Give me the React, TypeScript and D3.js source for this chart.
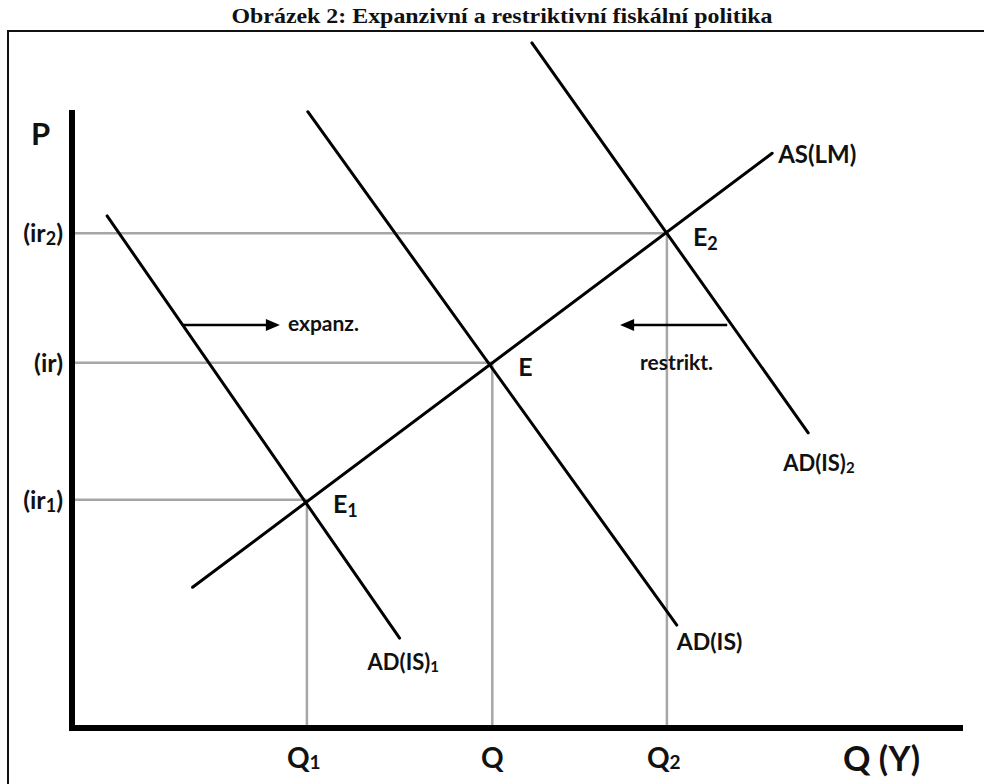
import React from "react";
import * as d3 from "d3";

const TITLE = "Obrázek 2: Expanzivní a restriktivní fiskální politika";

// Economic quantities (abstract units on 0..10 axes)
const qLevels = [
  { name: "Q1", base: "Q", sub: "1", q: 2.61, ir: 3.68, eq: "E", eqSub: "1", irBase: "(ir", irSub: "1" },
  { name: "Q", base: "Q", sub: "", q: 4.67, ir: 5.89, eq: "E", eqSub: "", irBase: "(ir", irSub: "" },
  { name: "Q2", base: "Q", sub: "2", q: 6.61, ir: 7.98, eq: "E", eqSub: "2", irBase: "(ir", irSub: "2" },
];

// Curves: [x, y] endpoints in data units
const asCurve: [number, number][] = [[1.34, 2.27], [7.78, 9.27]];
const adCurve1: [number, number][] = [[0.39, 8.26], [3.64, 1.45]];
const adCurve: [number, number][] = [[2.62, 9.94], [6.72, 1.66]];
const adCurve2: [number, number][] = [[5.11, 11.05], [8.18, 4.76]];

const shiftArrows = [
  { from: 1.23, to: 2.31, y: 6.5, label: "expanz." },
  { from: 7.28, to: 6.09, y: 6.5, label: "restrikt." },
];

const FONT = "Lato, 'Open Sans', sans-serif";

export default function App() {
  const x = d3.scaleLinear().domain([0, 10]).range([72, 972]);
  const y = d3.scaleLinear().domain([0, 10]).range([728, 108]);
  const line = d3.line<[number, number]>().x((d) => x(d[0])).y((d) => y(d[1]));

  const curves = [asCurve, adCurve1, adCurve, adCurve2];

  return (
    <svg
      width={984}
      height={784}
      style={{ position: "absolute", left: 0, top: 0, background: "#fff" }}
    >
      <rect x={0} y={0} width={984} height={784} fill="#fff" />
      <text
        x={502}
        y={23}
        textAnchor="middle"
        fontFamily="'Liberation Serif', 'Times New Roman', serif"
        fontWeight="bold"
        fontSize={22}
        textLength={541}
        lengthAdjust="spacingAndGlyphs"
        fill="#111"
      >
        {TITLE}
      </text>
      {/* frame */}
      <rect x={8} y={31} width={990} height={770} fill="none" stroke="#111" strokeWidth={2} />

      {/* guide lines */}
      {qLevels.map((l) => (
        <g key={l.name} stroke="#a6a6a6" strokeWidth={2.5}>
          <line x1={x(0)} x2={x(l.q)} y1={y(l.ir)} y2={y(l.ir)} />
          <line x1={x(l.q)} x2={x(l.q)} y1={y(l.ir)} y2={y(0)} />
        </g>
      ))}

      {/* curves */}
      {curves.map((c, i) => (
        <path key={i} d={line(c) || ""} fill="none" stroke="#000" strokeWidth={3} strokeLinecap="round" />
      ))}

      {/* axes */}
      <line x1={x(0)} x2={x(0)} y1={110} y2={y(0) + 3} stroke="#000" strokeWidth={6} />
      <line x1={x(0) - 3} x2={963} y1={y(0)} y2={y(0)} stroke="#000" strokeWidth={6} />

      {/* shift arrows */}
      {shiftArrows.map((a, i) => {
        const dir = a.to > a.from ? 1 : -1;
        const tipX = x(a.to);
        const yy = y(a.y);
        return (
          <g key={i}>
            <line x1={x(a.from)} x2={tipX - dir * 10} y1={yy} y2={yy} stroke="#000" strokeWidth={2.5} />
            <path
              d={`M${tipX},${yy} L${tipX - dir * 14},${yy - 6} L${tipX - dir * 14},${yy + 6} Z`}
              fill="#000"
            />
          </g>
        );
      })}
      <text x={x(shiftArrows[0].to) + 8} y={y(shiftArrows[0].y) + 6} fontFamily={FONT} fontWeight="bold" fontSize={21} fill="#111">
        {shiftArrows[0].label}
      </text>
      <text x={x(shiftArrows[1].to) + 20} y={y(shiftArrows[1].y) + 45} fontFamily={FONT} fontWeight="bold" fontSize={21} fill="#111">
        {shiftArrows[1].label}
      </text>

      {/* axis titles */}
      <text x={31} y={145} fontFamily={FONT} fontWeight="bold" fontSize={31} fill="#111">P</text>
      <text x={843} y={771} fontFamily={FONT} fontWeight="bold" fontSize={34} fill="#111">Q (Y)</text>

      {/* y tick labels */}
      {qLevels.map((l) => (
        <text key={"ir" + l.name} x={63} y={y(l.ir) + 9} textAnchor="end" fontFamily={FONT} fontWeight="bold" fontSize={25} fill="#111">
          {l.irBase}
          {l.irSub ? <tspan fontSize={18} dy={3}>{l.irSub}</tspan> : null}
          {l.irSub ? <tspan dy={-3}>)</tspan> : ")"}
        </text>
      ))}

      {/* x tick labels */}
      {qLevels.map((l) => (
        <text
          key={"q" + l.name}
          x={l.sub ? x(l.q) - 20 : x(l.q)}
          y={768}
          textAnchor={l.sub ? "start" : "middle"}
          fontFamily={FONT}
          fontWeight="bold"
          fontSize={28}
          fill="#111"
        >
          {l.base}
          {l.sub ? <tspan fontSize={19} dy={1}>{l.sub}</tspan> : null}
        </text>
      ))}

      {/* equilibrium labels */}
      {qLevels.map((l) => (
        <text key={"e" + l.name} x={x(l.q) + 26} y={y(l.ir) + 13} fontFamily={FONT} fontWeight="bold" fontSize={25} fill="#111">
          {l.eq}
          {l.eqSub ? <tspan fontSize={18} dy={4}>{l.eqSub}</tspan> : null}
        </text>
      ))}

      {/* curve labels */}
      <text x={x(asCurve[1][0]) + 6} y={y(asCurve[1][1]) + 10} fontFamily={FONT} fontWeight="bold" fontSize={24} fill="#111">AS(LM)</text>
      <text x={x(adCurve1[1][0]) - 32} y={y(adCurve1[1][1]) + 32} fontFamily={FONT} fontWeight="bold" fontSize={22} fill="#111">
        AD(IS)<tspan fontSize={15} dy={2}>1</tspan>
      </text>
      <text x={x(adCurve[1][0])} y={y(adCurve[1][1]) + 25} fontFamily={FONT} fontWeight="bold" fontSize={23} fill="#111">AD(IS)</text>
      <text x={x(adCurve2[1][0]) - 25} y={y(adCurve2[1][1]) + 38} fontFamily={FONT} fontWeight="bold" fontSize={22} fill="#111">
        AD(IS)<tspan fontSize={15} dy={2}>2</tspan>
      </text>
    </svg>
  );
}
